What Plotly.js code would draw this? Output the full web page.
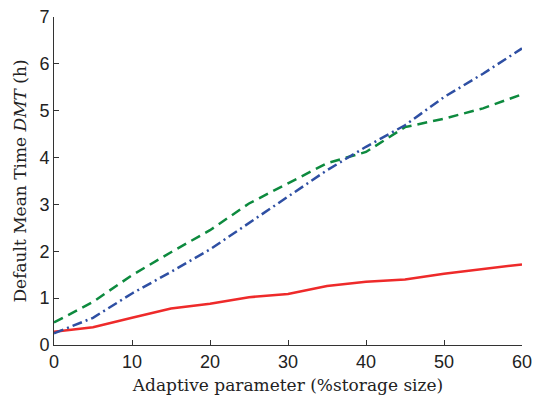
<!DOCTYPE html>
<html><head><meta charset="utf-8">
<script src="https://cdn.plot.ly/plotly-3.0.1.min.js"></script>
<style>html,body{margin:0;padding:0;background:#fff}#c{width:539px;height:401px}</style>
</head><body><div id="c"></div>
<script>
const xVals = [0,5,10,15,20,25,30,35,40,45,50,55,60];
const redVals = [0.28,0.38,0.58,0.78,0.88,1.02,1.09,1.26,1.35,1.40,1.52,1.62,1.72];
const greenVals = [0.48,0.92,1.49,1.98,2.45,3.02,3.45,3.88,4.12,4.65,4.83,5.05,5.35];
const blueVals = [0.25,0.58,1.10,1.56,2.04,2.60,3.16,3.73,4.23,4.69,5.29,5.79,6.33];
const xTicks = [0,10,20,30,40,50,60];
const yTicks = [0,1,2,3,4,5,6,7];

const traces = [
  {x:xVals,y:redVals,mode:'lines',line:{color:'#ee2a2a',width:2.5}},
  {x:xVals,y:greenVals,mode:'lines',line:{color:'#0d8a3e',width:2.5,dash:'10px,6px'}},
  {x:xVals,y:blueVals,mode:'lines',line:{color:'#2e4fa3',width:2.5,dash:'10px,4px,2px,4px'}}
];
const layout = {
  width:539,height:401,showlegend:false,
  margin:{l:54,r:17,t:17,b:56},
  paper_bgcolor:'#fff',plot_bgcolor:'#fff',
  font:{family:'Liberation Sans, Arial, sans-serif',size:18,color:'#222'},
  xaxis:{range:[0,60],tickvals:xTicks,ticktext:xTicks.map(String),showgrid:false,zeroline:false,
    showline:true,linecolor:'#333',linewidth:1,ticks:'inside',ticklen:5,tickcolor:'#333',
    title:{text:'Adaptive parameter (%storage size)',font:{family:'DejaVu Serif, Liberation Serif, serif',size:17,color:'#222'},standoff:8}},
  yaxis:{range:[0,7],tickvals:yTicks,ticktext:yTicks.map(String),showgrid:false,zeroline:false,
    showline:true,linecolor:'#333',linewidth:1,ticks:'inside',ticklen:5,tickcolor:'#333',
    title:{text:'Default Mean Time <i>DMT</i> (h)',font:{family:'DejaVu Serif, Liberation Serif, serif',size:17,color:'#222'},standoff:8}}
};
Plotly.newPlot('c',traces,layout,{displayModeBar:false,staticPlot:true});
</script></body></html>
